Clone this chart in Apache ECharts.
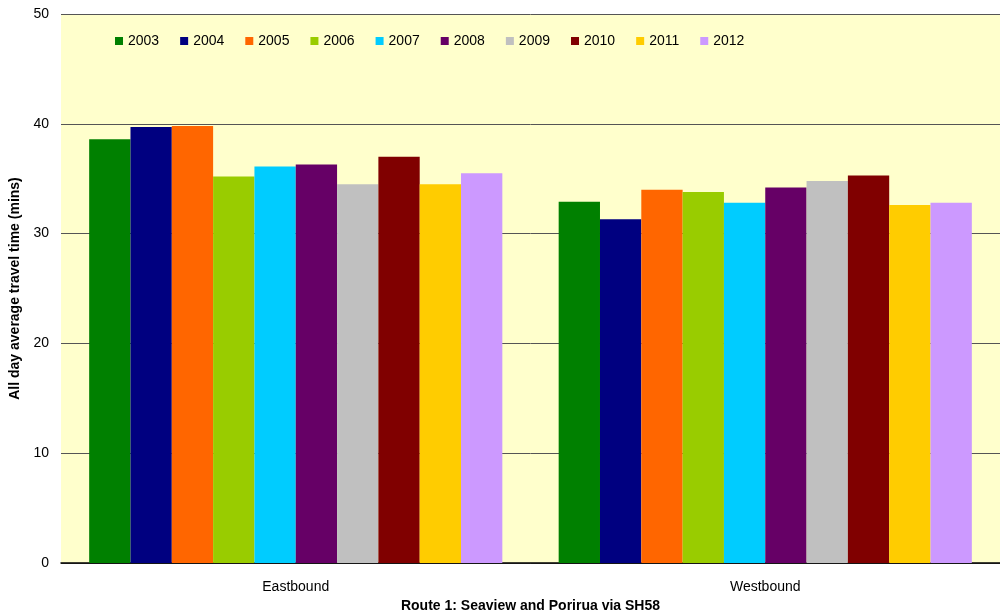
<!DOCTYPE html>
<html>
<head>
<meta charset="utf-8">
<script src="https://cdn.jsdelivr.net/npm/echarts@6/dist/echarts.min.js"></script>
<style>
  html, body { margin: 0; padding: 0; background: #fff; }
  #chart { width: 1000px; height: 615px; }
</style>
</head>
<body>
<div id="chart"></div>
<script>
// categories and series
const directions = ['Eastbound', 'Westbound']
const years = ['2003', '2004', '2005', '2006', '2007', '2008', '2009', '2010', '2011', '2012']
const yearColors = ['#008000', '#000080', '#FF6600', '#99CC00', '#00CCFF', '#660066', '#C0C0C0', '#800000', '#FFCC00', '#CC99FF']

// travel time (mins) per year: [Eastbound, Westbound]
const v2003 = [38.6, 32.9]
const v2004 = [39.7, 31.3]
const v2005 = [39.8, 34.0]
const v2006 = [35.2, 33.8]
const v2007 = [36.1, 32.8]
const v2008 = [36.3, 34.2]
const v2009 = [34.5, 34.8]
const v2010 = [37.0, 35.3]
const v2011 = [34.5, 32.6]
const v2012 = [35.5, 32.8]
const values = [v2003, v2004, v2005, v2006, v2007, v2008, v2009, v2010, v2011, v2012]

const chart = echarts.init(document.getElementById('chart'))

const font = 'Liberation Sans, Arial, sans-serif'

const option = {
  animation: false,
  textStyle: { fontFamily: font },
  grid: {
    left: 61,
    right: 0,
    top: 14,
    bottom: 52,
    outerBoundsMode: 'none',
    containLabel: false,
    show: true,
    backgroundColor: '#FFFFCC',
    borderWidth: 0
  },
  legend: {
    left: 110,
    top: 29,
    itemWidth: 8,
    itemHeight: 8,
    itemGap: 21,
    icon: 'rect',
    textStyle: { fontFamily: font, fontSize: 14, color: '#000' },
    data: years
  },
  xAxis: {
    type: 'category',
    data: directions,
    name: 'Route 1: Seaview and Porirua via SH58',
    nameLocation: 'middle',
    nameGap: 35,
    nameTextStyle: { fontFamily: font, fontSize: 14, fontWeight: 'bold', color: '#000' },
    axisLine: { lineStyle: { color: '#000', width: 1.5 } },
    axisTick: { show: false },
    axisLabel: { fontFamily: font, fontSize: 14, color: '#000', margin: 17 }
  },
  yAxis: {
    type: 'value',
    min: 0,
    max: 50,
    interval: 10,
    name: 'All day average travel time (mins)',
    nameLocation: 'middle',
    nameGap: 34,
    nameTextStyle: { fontFamily: font, fontSize: 14, fontWeight: 'bold', color: '#000' },
    axisLine: { show: false },
    axisTick: { show: false },
    axisLabel: { fontFamily: font, fontSize: 14, color: '#000', margin: 12 },
    splitLine: { lineStyle: { color: '#555', width: 1 } }
  },
  series: years.map((y, i) => ({
    name: y,
    type: 'bar',
    data: values[i],
    barGap: '0%',
    barCategoryGap: '12%',
    itemStyle: { color: yearColors[i] }
  }))
}

chart.setOption(option)
</script>
</body>
</html>
